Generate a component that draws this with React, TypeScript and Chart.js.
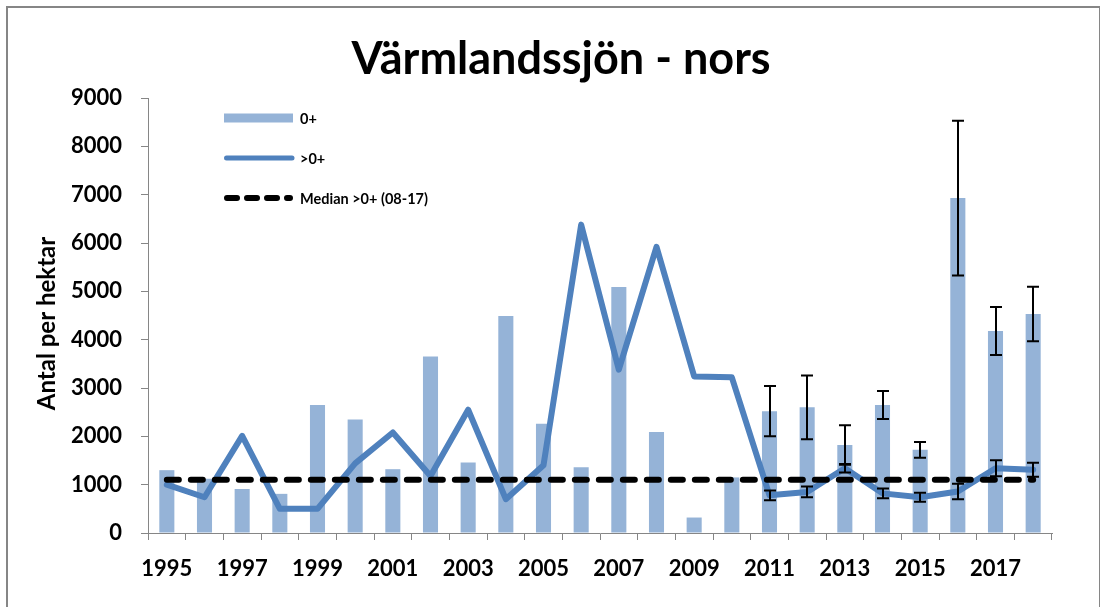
import React, { useEffect, useRef } from 'react';
import { Chart, registerables } from 'chart.js';

Chart.register(...registerables);

const years = ['1995', '1996', '1997', '1998', '1999', '2000', '2001', '2002', '2003', '2004', '2005', '2006', '2007', '2008', '2009', '2010', '2011', '2012', '2013', '2014', '2015', '2016', '2017', '2018'];

// 0+ (bars)
const juvenile = [1300, 1120, 910, 810, 2650, 2350, 1320, 3650, 1460, 4490, 2260, 1360, 5090, 2090, 320, 1150, 2520, 2600, 1820, 2650, 1720, 6930, 4180, 4530];
const juvenileErr = [null, null, null, null, null, null, null, null, null, null, null, null, null, null, null, null, 520, 660, 410, 290, 165, 1600, 495, 565];

// >0+ (line)
const older = [1000, 740, 2010, 500, 500, 1440, 2080, 1180, 2550, 700, 1400, 6380, 3380, 5920, 3240, 3220, 780, 850, 1340, 820, 740, 860, 1340, 1310];
const olderErr = [null, null, null, null, null, null, null, null, null, null, null, null, null, null, null, null, 100, 110, 90, 100, 95, 160, 165, 145];

const medianValue = 1100;

const yMin = 0;
const yMax = 9000;
const yStep = 1000;

const titleText = 'Värmlandssjön - nors';
const yTitle = 'Antal per hektar';
const legendLabels = ['0+', '>0+', 'Median >0+ (08-17)'];

const BAR_COLOR = '#95B3D7';
const LINE_COLOR = '#4F81BD';
const AXIS_COLOR = '#868686';
const FONT = 'Lato';

const errorBarPlugin = {
  id: 'errorBars',
  afterDatasetsDraw(chart: any) {
    const ctx = chart.ctx;
    const yScale = chart.scales.y;
    const sets: [number, number[], (number | null)[]][] = [
      [0, juvenile, juvenileErr],
      [1, older, olderErr],
    ];
    ctx.save();
    ctx.strokeStyle = '#000';
    ctx.lineWidth = 2;
    ctx.lineCap = 'butt';
    for (const [idx, vals, errs] of sets) {
      const meta = chart.getDatasetMeta(idx);
      errs.forEach((e, i) => {
        if (e == null) return;
        const el = meta.data[i];
        if (!el) return;
        const x = Math.round(el.x);
        const yt = yScale.getPixelForValue(vals[i] + e);
        const yb = yScale.getPixelForValue(vals[i] - e);
        ctx.beginPath();
        ctx.moveTo(x, yt);
        ctx.lineTo(x, yb);
        ctx.moveTo(x - 6, yt);
        ctx.lineTo(x + 6, yt);
        ctx.moveTo(x - 6, yb);
        ctx.lineTo(x + 6, yb);
        ctx.stroke();
      });
    }
    ctx.restore();
  },
};

const legendPlugin = {
  id: 'customLegend',
  afterDraw(chart: any) {
    const { ctx, chartArea } = chart;
    const x0 = chartArea.left + 76;
    const x1 = x0 + 69;
    const tx = x1 + 7;
    const rows = [chartArea.top + 20, chartArea.top + 60, chartArea.top + 100];
    ctx.save();
    ctx.fillStyle = BAR_COLOR;
    ctx.fillRect(x0, rows[0] - 4.5, x1 - x0, 9);
    ctx.strokeStyle = LINE_COLOR;
    ctx.lineWidth = 5;
    ctx.lineCap = 'round';
    ctx.beginPath();
    ctx.moveTo(x0 + 2.5, rows[1]);
    ctx.lineTo(x1 - 1, rows[1]);
    ctx.stroke();
    ctx.strokeStyle = '#000';
    ctx.lineWidth = 6;
    ctx.setLineDash([10, 10]);
    ctx.beginPath();
    ctx.moveTo(x0 + 3, rows[2]);
    ctx.lineTo(x1 - 3, rows[2]);
    ctx.stroke();
    ctx.setLineDash([]);
    ctx.fillStyle = '#000';
    ctx.font = `bold 14.5px ${FONT}`;
    ctx.textBaseline = 'middle';
    ctx.textAlign = 'left';
    legendLabels.forEach((t, i) => ctx.fillText(t, tx, rows[i] + 1));
    ctx.restore();
  },
};

const yTitlePlugin = {
  id: 'yTitleText',
  afterDraw(chart: any) {
    const { ctx, chartArea } = chart;
    ctx.save();
    ctx.translate(chartArea.left - 101, (chartArea.top + chartArea.bottom) / 2 + 8);
    ctx.rotate(-Math.PI / 2);
    ctx.font = `bold 24px ${FONT}`;
    ctx.fillStyle = '#000';
    ctx.textAlign = 'center';
    ctx.textBaseline = 'middle';
    ctx.fillText(yTitle, 0, 0);
    ctx.restore();
  },
};

export default function App() {
  const canvasRef = useRef<HTMLCanvasElement | null>(null);

  useEffect(() => {
    const canvas = canvasRef.current;
    if (!canvas) return;
    const chart = new Chart(canvas, {
      data: {
        labels: years,
        datasets: [
          {
            type: 'bar',
            label: legendLabels[0],
            data: juvenile,
            backgroundColor: BAR_COLOR,
            barPercentage: 0.4,
            categoryPercentage: 1,
            order: 3,
          },
          {
            type: 'line',
            label: legendLabels[1],
            data: older,
            borderColor: LINE_COLOR,
            borderWidth: 6,
            pointRadius: 0,
            tension: 0,
            borderJoinStyle: 'round',
            borderCapStyle: 'round',
            order: 2,
          },
          {
            type: 'line',
            label: legendLabels[2],
            data: years.map(() => medianValue),
            borderColor: '#000',
            borderWidth: 6,
            borderDash: [12, 12],
            borderCapStyle: 'round',
            pointRadius: 0,
            tension: 0,
            order: 1,
          },
        ],
      } as any,
      options: {
        responsive: false,
        animation: false,
        devicePixelRatio: 1,
        layout: { padding: { left: 70, right: 49, top: 0, bottom: 0 } },
        plugins: {
          legend: { display: false },
          tooltip: { enabled: false },
          title: {
            display: true,
            text: titleText,
            color: '#000',
            font: { family: FONT, size: 45, weight: 'bold' },
            padding: { top: 32, bottom: 12 },
          },
        },
        scales: {
          x: {
            type: 'category',
            offset: true,
            grid: {
              offset: true,
              drawOnChartArea: false,
              drawTicks: true,
              tickLength: 7,
              color: AXIS_COLOR,
            },
            border: { display: true, color: AXIS_COLOR, width: 1 },
            ticks: {
              autoSkip: false,
              maxRotation: 0,
              minRotation: 0,
              padding: 16,
              color: '#000',
              font: { family: FONT, size: 22, weight: 'bold' },
              callback: (_v: any, i: number) => (i % 2 === 0 ? years[i] : ''),
            },
            afterFit: (s: any) => {
              s.height = 74;
            },
          },
          y: {
            min: yMin,
            max: yMax,
            ticks: {
              stepSize: yStep,
              color: '#000',
              padding: 19,
              font: { family: FONT, size: 22, weight: 'bold' },
              callback: (v: any) => String(v),
            },
            grid: {
              drawOnChartArea: false,
              drawTicks: true,
              tickLength: 7,
              color: AXIS_COLOR,
            },
            border: { display: true, color: AXIS_COLOR, width: 1 },
            afterFit: (s: any) => {
              s.width = 78;
            },
          },
        },
      } as any,
      plugins: [errorBarPlugin, legendPlugin, yTitlePlugin],
    });
    return () => chart.destroy();
  }, []);

  return (
    <div style={{ position: 'fixed', left: 0, top: 0, width: 1101, height: 607, background: '#fff', overflow: 'hidden' }}>
      <div
        style={{
          position: 'absolute',
          left: 6,
          top: 6,
          right: 1,
          bottom: -10,
          borderLeft: `2px solid ${AXIS_COLOR}`,
          borderTop: `2px solid ${AXIS_COLOR}`,
          borderRight: `1px solid ${AXIS_COLOR}`,
        }}
      />
      <canvas
        ref={canvasRef}
        width={1101}
        height={607}
        style={{ position: 'absolute', left: 0, top: 0, width: 1101, height: 607 }}
      />
    </div>
  );
}
